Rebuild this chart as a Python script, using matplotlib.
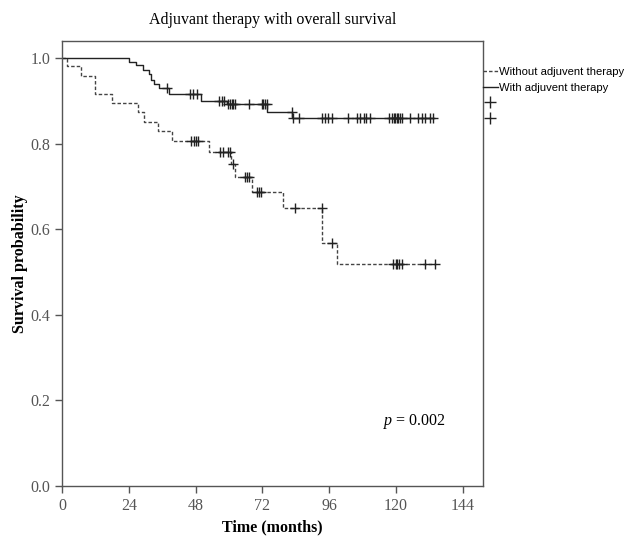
import matplotlib
matplotlib.use("Agg")
import matplotlib.pyplot as plt
from matplotlib.lines import Line2D


# DATA

# Kaplan-Meier steps (time in months, survival after the step)
without_t = [0, 1.9, 6.9, 12.0, 18.0, 27.3, 29.5, 34.5, 39.5, 52.7, 60.7, 62.2, 68.3, 79.5, 93.3, 98.7, 133.8]
without_s = [1.0, 0.981, 0.958, 0.915, 0.894, 0.873, 0.850, 0.829, 0.806, 0.780, 0.752, 0.721, 0.688, 0.650, 0.569, 0.518, 0.518]
without_cens = [46.5, 47.3, 48.0, 48.9, 56.9, 57.8, 59.5, 60.3, 61.3, 65.8, 66.5, 67.3,
                70.0, 70.8, 71.5, 83.7, 93.3, 96.9, 119.0, 119.8, 120.5, 121.2, 122.0, 130.4, 133.8]

with_t = [0, 24.0, 26.7, 29.1, 31.1, 32.1, 33.1, 35.0, 38.5, 50.0, 59.3, 73.5, 82.5, 133.3]
with_s = [1.0, 0.992, 0.983, 0.973, 0.963, 0.950, 0.940, 0.931, 0.915, 0.900, 0.893, 0.875, 0.860, 0.860]
with_cens = [37.6, 46.0, 47.0, 48.5, 56.4, 57.3, 58.2, 59.8, 60.4, 61.0, 61.6, 62.2, 67.0,
             71.7, 72.3, 72.9, 73.5, 82.5, 83.1, 85.3, 93.3, 94.5, 95.7, 96.9, 102.9,
             105.9, 107.1, 108.3, 109.2, 110.7, 117.3, 118.5, 119.3, 119.7, 120.3, 120.8,
             121.5, 122.1, 125.0, 128.0, 129.2, 130.4, 132.2, 133.2]

x_ticks = [0, 24, 48, 72, 96, 120, 144]
y_ticks = [0.0, 0.2, 0.4, 0.6, 0.8, 1.0]
group_labels = ["Without adjuvent therapy", "With adjuvent therapy"]
p_text = "0.002"


def surv_at(t, times, surv):
    # value of the step function just after t
    val = surv[0]
    for ti, si in zip(times, surv):
        if ti < t:
            val = si
    return val


# PLOT

serif = "Liberation Serif"
plt.rcParams["mathtext.fontset"] = "custom"
plt.rcParams["mathtext.it"] = "Liberation Serif:italic"
plt.rcParams["mathtext.rm"] = "Liberation Serif"

fig = plt.figure(figsize=(6.35, 5.38), dpi=100)
ax = fig.add_axes([0.0976, 0.0967, 0.663, 0.8271])

ax.step(without_t, without_s, where="post", color="#444444", lw=1.0, ls=(0, (2.5, 1.5)))
ax.step(with_t, with_s, where="post", color="#222222", lw=1.0)

ax.plot(without_cens, [surv_at(c, without_t, without_s) for c in without_cens],
        ls="none", marker="+", ms=7.5, mew=1.0, color="#222222")
ax.plot(with_cens, [surv_at(c, with_t, with_s) for c in with_cens],
        ls="none", marker="+", ms=7.5, mew=1.0, color="#222222")

ax.set_xlim(0, 151.2)
ax.set_ylim(0, 1.04)
ax.set_xticks(x_ticks)
ax.set_yticks(y_ticks)
ax.set_yticklabels([f"{v:.1f}" for v in y_ticks])
ax.tick_params(direction="out", length=5, width=1, colors="#555555", labelsize=11.5)
for lab in ax.get_xticklabels() + ax.get_yticklabels():
    lab.set_family(serif)
for sp in ax.spines.values():
    sp.set_color("#555555")
    sp.set_linewidth(1.0)

ax.set_title("Adjuvant therapy with overall survival", family=serif, fontsize=11.5, pad=12)
ax.set_xlabel("Time (months)", family=serif, fontsize=11.5, fontweight="bold", labelpad=4)
ax.set_ylabel("Survival probability", family=serif, fontsize=11.5, fontweight="bold", labelpad=2)

ax.text(115.3, 0.15, "$\\mathit{p}$ = " + p_text, family=serif, fontsize=11.5, va="center")

handles = [
    Line2D([], [], color="#444444", lw=1.0, ls=(0, (2.5, 1.5))),
    Line2D([], [], color="#222222", lw=1.0),
    Line2D([], [], ls="none", marker="+", ms=9, mew=1.0, color="#222222"),
    Line2D([], [], ls="none", marker="+", ms=9, mew=1.0, color="#222222"),
]
fig.legend(handles, group_labels + ["", ""], loc="upper left", bbox_to_anchor=(0.752, 0.886),
           frameon=False, borderpad=0, handlelength=1.3, handletextpad=0.1, labelspacing=0.5,
           prop={"family": "Liberation Sans", "size": 8.1})

fig.savefig("out.png", dpi=100)
